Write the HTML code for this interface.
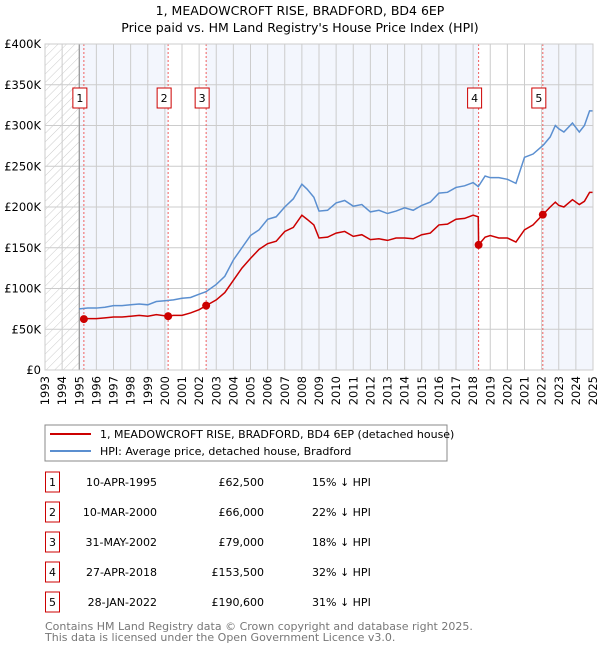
<!DOCTYPE html>
<html><head><meta charset="utf-8"><style>
body{margin:0;width:600px;height:650px;background:#fff;font-family:"DejaVu Sans","Liberation Sans",sans-serif;overflow:hidden}
svg text{font-family:"DejaVu Sans","Liberation Sans",sans-serif}
</style></head><body>
<svg id="chart" width="600" height="650" xmlns="http://www.w3.org/2000/svg">
<defs><pattern id="hatch" width="6" height="6" patternUnits="userSpaceOnUse" patternTransform="rotate(45)"><line x1="0" y1="0" x2="0" y2="6" stroke="#ccc" stroke-width="1"/></pattern></defs>
<text x="300" y="15" text-anchor="middle" font-size="12.5">1, MEADOWCROFT RISE, BRADFORD, BD4 6EP</text>
<text x="300" y="32" text-anchor="middle" font-size="12.5">Price paid vs. HM Land Registry's House Price Index (HPI)</text>
<g id="plot"></g>
<g>
<rect x="45" y="425" width="402" height="36" fill="#fff" stroke="#888"/>
<line x1="50" y1="434" x2="91" y2="434" stroke="#cc0000" stroke-width="2"/>
<text x="100" y="438" font-size="11">1, MEADOWCROFT RISE, BRADFORD, BD4 6EP (detached house)</text>
<line x1="50" y1="451" x2="91" y2="451" stroke="#5b8fd0" stroke-width="2"/>
<text x="100" y="455" font-size="11">HPI: Average price, detached house, Bradford</text>
</g>
<g id="table"></g>
<text x="45" y="630" font-size="11" fill="#777">Contains HM Land Registry data © Crown copyright and database right 2025.</text>
<text x="45" y="641" font-size="11" fill="#777">This data is licensed under the Open Government Licence v3.0.</text>
</svg>
<script>
const yTicks=[0,50000,100000,150000,200000,250000,300000,350000,400000];
const yTickLabels=["£0","£50K","£100K","£150K","£200K","£250K","£300K","£350K","£400K"];
const years=[1993,1994,1995,1996,1997,1998,1999,2000,2001,2002,2003,2004,2005,2006,2007,2008,2009,2010,2011,2012,2013,2014,2015,2016,2017,2018,2019,2020,2021,2022,2023,2024,2025];
const hpiT=[1995.0,1995.5,1996,1996.5,1997,1997.5,1998,1998.5,1999,1999.5,2000,2000.5,2001,2001.5,2002,2002.4,2003,2003.5,2004,2004.5,2005,2005.5,2006,2006.5,2007,2007.5,2008,2008.3,2008.7,2009,2009.5,2010,2010.5,2011,2011.5,2012,2012.5,2013,2013.5,2014,2014.5,2015,2015.5,2016,2016.5,2017,2017.5,2018,2018.3,2018.7,2019,2019.5,2020,2020.5,2021,2021.5,2022.1,2022.5,2022.8,2023,2023.3,2023.8,2024.2,2024.5,2024.8,2025];
const hpiV=[75000,76000,76000,77000,79000,79000,80000,81000,80000,84000,85000,86000,88000,89000,93000,96000,105000,115000,135000,150000,165000,172000,185000,188000,200000,210000,228000,222000,212000,195000,196000,205000,208000,201000,203000,194000,196000,192000,195000,199000,196000,202000,206000,217000,218000,224000,226000,230000,225000,238000,236000,236000,234000,229000,261000,265000,276000,286000,300000,296000,292000,303000,292000,300000,318000,318000];
const ppT=[1995.27,1995.5,1996,1996.5,1997,1997.5,1998,1998.5,1999,1999.5,2000.19,2000.5,2001,2001.5,2002,2002.41,2003,2003.5,2004,2004.5,2005,2005.5,2006,2006.5,2007,2007.5,2008,2008.3,2008.7,2009,2009.5,2010,2010.5,2011,2011.5,2012,2012.5,2013,2013.5,2014,2014.5,2015,2015.5,2016,2016.5,2017,2017.5,2018,2018.3,2018.32,2018.7,2019,2019.5,2020,2020.5,2021,2021.5,2022.07,2022.5,2022.8,2023,2023.3,2023.8,2024.2,2024.5,2024.8,2025];
const ppV=[62500,63000,63000,64000,65000,65000,66000,67000,66000,68000,66000,67000,67000,70000,74000,79000,86000,95000,110000,125000,137000,148000,155000,158000,170000,175000,190000,185000,178000,162000,163000,168000,170000,164000,166000,160000,161000,159000,162000,162000,161000,166000,168000,178000,179000,185000,186000,190000,188000,153500,163000,165000,162000,162000,157000,172000,178000,190600,200000,206000,202000,200000,209000,203000,207000,218000,218000];
const saleLabels=["1","2","3","4","5"];
const saleT=[1995.27,2000.19,2002.41,2018.32,2022.07];
const saleV=[62500,66000,79000,153500,190600];
const saleDates=["10-APR-1995","10-MAR-2000","31-MAY-2002","27-APR-2018","28-JAN-2022"];
const salePrices=["£62,500","£66,000","£79,000","£153,500","£190,600"];
const saleHpi=["15% ↓ HPI","22% ↓ HPI","18% ↓ HPI","32% ↓ HPI","31% ↓ HPI"];

const X0=45,X1=593,Y0=370,Y1=44,T0=1993,T1=2025,VMAX=400000;
const sx=t=>X0+(t-T0)/(T1-T0)*(X1-X0);
const sy=v=>Y0-(v/VMAX)*(Y0-Y1);
const NS="http://www.w3.org/2000/svg";
const plot=document.getElementById('plot');
function mk(tag,attrs,parent){const e=document.createElementNS(NS,tag);for(const k in attrs)e.setAttribute(k,attrs[k]);(parent||plot).appendChild(e);return e;}

const bgB=mk('rect',{x:X0,y:Y1,width:X1-X0,height:Y0-Y1,fill:'#f3f6fd'});


const hw=mk('rect',{x:sx(1993),y:Y1,width:sx(1995)-sx(1993),height:Y0-Y1,fill:'#fff'});


const hatch=mk('rect',{x:sx(1993),y:Y1,width:sx(1995)-sx(1993),height:Y0-Y1,fill:'url(#hatch)'});


[[1,2],[3,4]].forEach(p=>{
  const r=mk('rect',{x:sx(saleT[p[0]]),y:Y1,width:sx(saleT[p[1]])-sx(saleT[p[0]]),height:Y0-Y1,fill:'#fff'});
  
  
});
years.forEach(y=>{const l=mk('line',{x1:sx(y),x2:sx(y),y1:Y1,y2:Y0,stroke:'#ccc','stroke-width':1});


const t=mk('text',{x:0,y:0,'font-size':11.5,'text-anchor':'end',transform:`translate(${sx(y)+4},${Y0+6}) rotate(-90)`});
t.textContent=y;

});
yTicks.forEach((v,i)=>{const l=mk('line',{x1:X0,x2:X1,y1:sy(v),y2:sy(v),stroke:'#ccc','stroke-width':1});


const t=mk('text',{x:X0-4,y:sy(v)+4,'font-size':11.5,'text-anchor':'end'});
t.textContent=yTickLabels[i];

});
const ax=mk('line',{x1:sx(1995),x2:sx(1995),y1:Y1,y2:Y0,stroke:'#888','stroke-width':1});


saleT.forEach((t,i)=>{const l=mk('line',{x1:sx(t),x2:sx(t),y1:Y1,y2:Y0,stroke:'#f06060','stroke-width':1,'stroke-dasharray':'2,2'});

});
const hp=mk('polyline',{points:hpiT.map((t,i)=>sx(t)+','+sy(hpiV[i])).join(' '),fill:'none',stroke:'#5b8fd0','stroke-width':1.5});


const pp=mk('polyline',{points:ppT.map((t,i)=>sx(t)+','+sy(ppV[i])).join(' '),fill:'none',stroke:'#cc0000','stroke-width':1.5});


saleT.forEach((t,i)=>{const c=mk('circle',{cx:sx(t),cy:sy(saleV[i]),r:4,fill:'#cc0000'});


const g=mk('g',{});


mk('rect',{x:sx(t)-11,y:88,width:14,height:20,fill:'#fff',stroke:'#cc0000'},g);
const tx=mk('text',{x:sx(t)-4,y:102,'font-size':11,'text-anchor':'middle'},g);tx.textContent=saleLabels[i];});
const fr=mk('rect',{x:X0,y:Y1,width:X1-X0,height:Y0-Y1,fill:'none',stroke:'#ccc'});


const tb=document.getElementById('table');
saleLabels.forEach((s,i)=>{const cy=483+i*30;
const row=mk('g',{},tb);


mk('rect',{x:45.5,y:cy-11,width:14,height:20,fill:'#fff',stroke:'#cc0000'},row);
let t=mk('text',{x:52.5,y:cy+3,'font-size':11,'text-anchor':'middle'},row);t.textContent=s;
t=mk('text',{x:157,y:cy+3,'font-size':11,'text-anchor':'end'},row);t.textContent=saleDates[i];
t=mk('text',{x:264,y:cy+3,'font-size':11,'text-anchor':'end'},row);t.textContent=salePrices[i];
t=mk('text',{x:312,y:cy+3,'font-size':11},row);t.textContent=saleHpi[i];});
</script>
</body></html>
